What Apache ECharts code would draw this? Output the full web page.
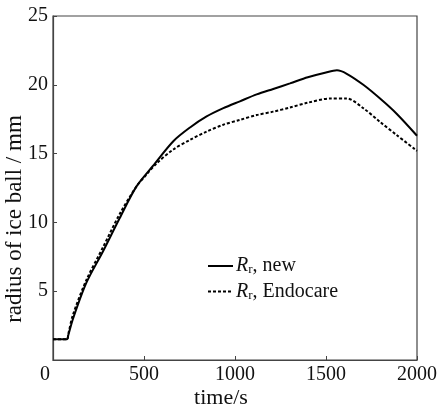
<!DOCTYPE html>
<html>
<head>
<meta charset="utf-8">
<script src="https://cdn.jsdelivr.net/npm/echarts@6/dist/echarts.min.js"></script>
<style>
  html, body { margin: 0; padding: 0; background: #fff; }
  #chart { width: 439px; height: 410px; }
</style>
</head>
<body>
<div id="chart"></div>
<script>
// time in s, radius in mm
const newSeries = [
  [0, 1.5], [76, 1.5], [84, 1.8], [110, 3.0], [183, 5.6], [275, 7.9], [366, 10.3],
  [458, 12.6], [549, 14.1], [661, 15.9], [753, 16.9], [844, 17.7], [936, 18.3],
  [1027, 18.8], [1119, 19.3], [1210, 19.7], [1302, 20.1], [1400, 20.55],
  [1500, 20.9], [1560, 21.05], [1614, 20.8], [1705, 20.0], [1797, 19.0],
  [1888, 17.9], [2000, 16.3]
]
const endocareSeries = [
  [0, 1.5], [76, 1.5], [84, 1.9], [110, 3.3], [183, 5.8], [275, 8.2], [366, 10.6],
  [458, 12.6], [515, 13.5], [570, 14.3], [661, 15.3], [753, 16.0], [844, 16.6],
  [936, 17.1], [1027, 17.45], [1119, 17.8], [1210, 18.05], [1302, 18.35],
  [1400, 18.7], [1522, 19.0], [1614, 19.0], [1705, 18.3], [1797, 17.3],
  [1888, 16.35], [2000, 15.2]
]
const xTicks = [0, 500, 1000, 1500, 2000]
const yTicks = [5, 10, 15, 20, 25]

const font = 'Liberation Serif'
const ink = '#111'

const chart = echarts.init(document.getElementById('chart'))
chart.setOption({
  animation: false,
  grid: {
    left: 53, right: 22, top: 16, bottom: 50,
    containLabel: false, outerBoundsMode: 'none',
    show: true, borderColor: '#444', borderWidth: 1.2
  },
  legend: {
    left: 207, top: 256, padding: 0,
    orient: 'vertical',
    itemWidth: 25, itemHeight: 14, itemGap: 5,
    itemStyle: { opacity: 0 },
    formatter: name => name === 'new'
      ? '{i|R}{s|r}{n|, new}'
      : '{i|R}{s|r}{n|, Endocare}',
    textStyle: {
      fontFamily: font, color: ink, fontSize: 20, padding: [0, 0, 0, -2],
      rich: {
        i: { fontFamily: font, fontStyle: 'italic', fontSize: 20, color: ink },
        s: { fontFamily: font, fontSize: 13, color: ink, verticalAlign: 'bottom', padding: [8, 0, 0, 0] },
        n: { fontFamily: font, fontSize: 20, color: ink }
      }
    },
    data: ['new', 'Endocare']
  },
  xAxis: {
    type: 'value',
    min: 0, max: 2000, interval: 500,
    name: 'time/s',
    nameLocation: 'middle',
    nameGap: 27,
    nameMoveOverlap: false,
    nameTextStyle: { fontFamily: font, fontSize: 22, color: ink, padding: [0, 28, 0, 0] },
    axisLine: { show: true, lineStyle: { color: '#444', width: 1.2 } },
    axisTick: { show: true, inside: true, length: 4, lineStyle: { color: '#444' } },
    splitLine: { show: false },
    axisLabel: {
      fontFamily: font, fontSize: 20, color: ink, margin: 5,
      formatter: v => xTicks.includes(v) ? (v === 0 ? '{z|0}' : String(v)) : '',
      rich: { z: { fontFamily: font, fontSize: 20, color: ink, padding: [0, 16, 0, 0] } }
    }
  },
  yAxis: {
    type: 'value',
    min: 0, max: 25, interval: 5,
    name: 'radius of ice ball / mm',
    nameLocation: 'middle',
    nameGap: 27,
    nameMoveOverlap: false,
    nameTextStyle: { fontFamily: font, fontSize: 23, color: ink, padding: [0, 0, 0, -62] },
    axisLine: { show: true, lineStyle: { color: '#444', width: 1.2 } },
    axisTick: { show: true, inside: true, length: 4, lineStyle: { color: '#444' } },
    splitLine: { show: false },
    axisLabel: {
      fontFamily: font, fontSize: 20, color: ink, margin: 5,
      formatter: v => yTicks.includes(v) ? String(v) : ''
    }
  },
  series: [
    {
      name: 'new',
      type: 'line',
      data: newSeries,
      smooth: 0.3,
      symbol: 'none',
      lineStyle: { color: '#000', width: 2, type: 'solid' },
      itemStyle: { color: '#000' }
    },
    {
      name: 'Endocare',
      type: 'line',
      data: endocareSeries,
      smooth: 0.3,
      symbol: 'none',
      lineStyle: { color: '#000', width: 2, type: [3, 2] },
      itemStyle: { color: '#000' }
    }
  ]
})
</script>
</body>
</html>
